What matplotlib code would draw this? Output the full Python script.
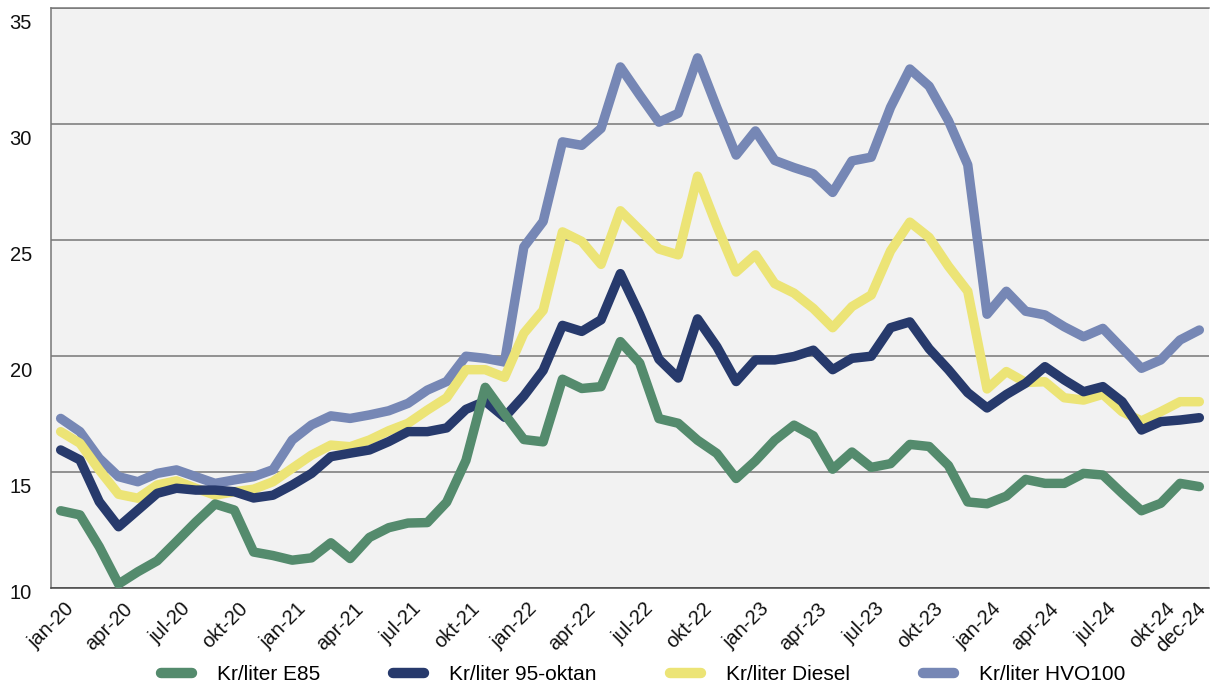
import numpy as np
import matplotlib
matplotlib.use("Agg")
import matplotlib.pyplot as plt
from matplotlib.transforms import ScaledTranslation

plt.rcParams['font.family'] = ['Liberation Sans', 'DejaVu Sans']

# monthly prices jan-20 .. dec-24 (kr/liter)
months = ['jan', 'feb', 'mar', 'apr', 'maj', 'jun', 'jul', 'aug', 'sep', 'okt', 'nov', 'dec']
periods = [f'{m}-{y}' for y in range(20, 25) for m in months]

e85 = [13.33, 13.15, 11.78, 10.17, 10.7, 11.17, 12.0, 12.84, 13.62, 13.36,
       11.55, 11.4, 11.2, 11.3, 11.95, 11.27, 12.18, 12.6, 12.8, 12.82,
       13.7, 15.5, 18.65, 17.5, 16.4, 16.3, 19.0, 18.6, 18.68, 20.62,
       19.7, 17.3, 17.1, 16.37, 15.8, 14.72, 15.48, 16.37, 17.02, 16.56,
       15.12, 15.86, 15.2, 15.36, 16.19, 16.1, 15.28, 13.71, 13.63, 13.96,
       14.68, 14.51, 14.51, 14.94, 14.87, 14.08, 13.33, 13.65, 14.51, 14.37]

oktan95 = [15.95, 15.52, 13.72, 12.64, 13.36, 14.08, 14.3, 14.22, 14.22, 14.15,
           13.88, 14.0, 14.44, 14.94, 15.66, 15.81, 15.95, 16.31, 16.74, 16.74,
           16.9, 17.7, 18.05, 17.36, 18.28, 19.38, 21.32, 21.06, 21.56, 23.55,
           21.8, 19.86, 19.05, 21.6, 20.4, 18.9, 19.83, 19.83, 19.98, 20.25,
           19.41, 19.9, 19.99, 21.22, 21.47, 20.31, 19.41, 18.42, 17.76, 18.34,
           18.83, 19.54, 18.97, 18.46, 18.68, 18.03, 16.81, 17.17, 17.24, 17.34]

diesel = [16.74, 16.24, 15.09, 14.04, 13.87, 14.44, 14.62, 14.3, 14.0, 14.15,
          14.26, 14.58, 15.16, 15.73, 16.16, 16.09, 16.38, 16.78, 17.1, 17.67,
          18.2, 19.41, 19.41, 19.08, 20.98, 21.97, 25.35, 24.94, 23.95, 26.26,
          25.44, 24.61, 24.36, 27.75, 25.6, 23.62, 24.36, 23.12, 22.71, 22.05,
          21.22, 22.13, 22.63, 24.53, 25.77, 25.11, 23.87, 22.79, 18.58, 19.33,
          18.86, 18.89, 18.2, 18.1, 18.35, 17.6, 17.2, 17.6, 18.03, 18.03]

hvo100 = [17.31, 16.74, 15.59, 14.8, 14.58, 14.94, 15.09, 14.8, 14.51, 14.66,
          14.8, 15.1, 16.38, 17.03, 17.42, 17.31, 17.46, 17.64, 17.96, 18.53,
          18.9, 19.99, 19.9, 19.74, 24.7, 25.8, 29.23, 29.08, 29.81, 32.46,
          31.25, 30.08, 30.46, 32.85, 30.7, 28.66, 29.7, 28.43, 28.12, 27.85,
          27.05, 28.41, 28.57, 30.72, 32.37, 31.63, 30.14, 28.24, 21.8, 22.79,
          21.93, 21.77, 21.26, 20.83, 21.19, 20.33, 19.47, 19.83, 20.69, 21.12]

series = [
    ('Kr/liter E85', e85, '#548b6d'),
    ('Kr/liter 95-oktan', oktan95, '#273a6c'),
    ('Kr/liter Diesel', diesel, '#ece476'),
    ('Kr/liter HVO100', hvo100, '#7687b5'),
]

x = np.arange(len(periods))

fig = plt.figure(figsize=(12.15, 6.86), dpi=100)
ax = fig.add_axes([51 / 1215, 1 - 588 / 686, (1209 - 51) / 1215, (588 - 8) / 686])
ax.set_facecolor('#f2f2f2')

handles = []
for k, (name, vals, col) in enumerate(series):
    ln, = ax.plot(x, vals, color=col, lw=6.8, label=name,
                  solid_capstyle='round', solid_joinstyle='round',
                  zorder=10 - k)
    handles.append(ln)

ax.set_xlim(-0.5, len(periods) - 0.5)
ax.set_ylim(10, 35)

# grid
ax.set_yticks([10, 15, 20, 25, 30, 35])
ax.yaxis.grid(True, color='#777777', lw=1.1)
ax.set_axisbelow(True)
ax.spines['right'].set_visible(False)
ax.spines['top'].set_color('#777777')
ax.spines['top'].set_linewidth(1.1)
ax.spines['left'].set_color('#777777')
ax.spines['left'].set_linewidth(1.1)
ax.spines['bottom'].set_color('#444444')
ax.spines['bottom'].set_linewidth(1.1)
ax.tick_params(length=0)

# y labels, placed like the original (below the gridline)
ax.set_yticklabels([])
for v in [10, 15, 20, 25, 30, 35]:
    dy = 4 if v == 10 else -6
    tr = ax.get_yaxis_transform() + ScaledTranslation(-19 / 100, dy / 100, fig.dpi_scale_trans)
    ax.text(0, v, str(v), transform=tr, ha='right', va='top', fontsize=14.5, color='#111111')

# x labels every quarter plus last month
xt = list(range(0, len(periods), 3)) + [len(periods) - 1]
ax.set_xticks(xt)
ax.set_xticklabels([periods[i] for i in xt], rotation=45, ha='right', va='top',
                   rotation_mode='anchor', fontsize=14.5, color='#111111')
ax.tick_params(axis='x', pad=8)
labs = ax.get_xticklabels()
for i, lab in enumerate(labs):
    dx = -3 if i == len(labs) - 1 else 4
    lab.set_transform(lab.get_transform() + ScaledTranslation(dx / 100, 0, fig.dpi_scale_trans))

leg = fig.legend(handles=handles, loc='center', bbox_to_anchor=(643 / 1215, 11 / 686),
                 ncol=4, frameon=False, fontsize=15, handlelength=1.5,
                 handletextpad=1.2, columnspacing=3.5)
for h in leg.get_lines():
    h.set_linewidth(7.5)
    h.set_solid_capstyle('round')

fig.savefig('out.png', dpi=100)
